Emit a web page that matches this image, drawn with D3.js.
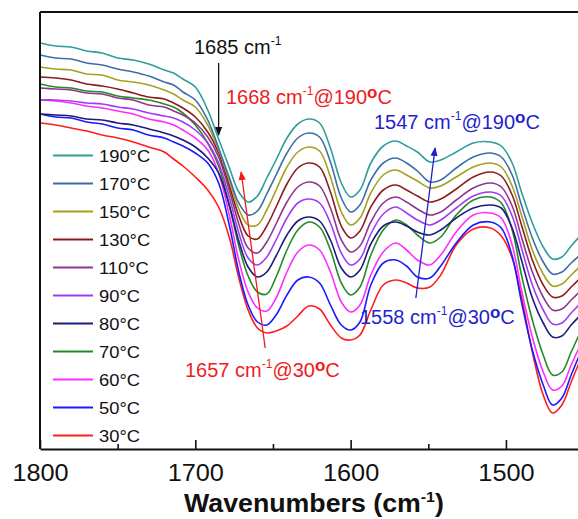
<!DOCTYPE html>
<html>
<head>
<meta charset="utf-8">
<script src="https://cdn.jsdelivr.net/npm/d3@7"></script>
<style>
  html, body { margin: 0; padding: 0; background: #fff; }
  svg { display: block; font-family: "Liberation Sans", Arial, Helvetica, sans-serif; }
</style>
</head>
<body>
<svg id="chart" width="578" height="519"></svg>
<script>
// FTIR spectra (amide I / amide II region) recorded at increasing temperature.
// Absorbance in milli-units (offset per spectrum as plotted).
const wavenumbers = [1800,1790,1780,1770,1760,1750,1740,1730,1720,1714,1708,1700,1692,1685,1678,1672,1666,1660,1654,1648,1641,1634,1627,1620,1613,1606,1600,1594,1587,1579,1571,1564,1557,1549,1542,1532,1521,1510,1503,1496,1490,1483,1476,1470,1464,1458,1450];

const temperatures = ["190°C","170°C","150°C","130°C","110°C","90°C","80°C","70°C","60°C","50°C","30°C"];

const abs190 = [417,414,413,409,407,402,400,396,390,387,381,373,350,321,292,268,258,264,282,300,322,336,341,337,312,277,263,270,297,314,319,314,308,298,300,308,317,318,314,297,268,237,213,201,203,214,228];
const abs170 = [405,402,401,397,395,391,388,384,378,375,368,360,340,312,282,257,245,249,266,285,307,322,327,323,298,262,248,255,280,297,302,297,289,278,280,292,303,307,303,285,255,222,198,186,188,197,208];
const abs150 = [393,391,390,386,385,380,378,375,370,366,360,353,335,310,279,251,235,235,250,270,293,308,313,309,283,248,235,242,267,285,290,285,279,272,274,283,293,297,293,274,245,210,186,174,176,185,197];
const abs130 = [383,382,380,376,374,371,367,363,361,357,352,343,328,307,274,244,224,221,234,253,276,292,297,293,268,234,222,229,253,270,275,270,264,258,261,271,283,288,284,265,235,200,175,163,164,173,185];
const abs110 = [372,371,370,367,366,362,360,355,353,349,345,337,323,303,269,236,212,207,218,236,258,273,278,274,252,220,208,214,238,257,263,258,251,245,248,260,272,277,273,254,223,188,163,150,151,160,172];
const abs90  = [360,360,359,357,356,353,351,347,344,342,338,330,317,297,262,227,202,195,203,220,242,257,261,257,237,207,195,201,226,246,253,247,240,235,240,252,264,268,264,244,212,175,150,136,137,147,160];
const abs80  = [346,345,344,341,340,337,335,331,327,324,320,313,302,287,254,219,193,183,188,204,225,239,243,239,220,192,183,190,216,234,238,234,228,225,230,242,252,255,252,232,200,162,137,123,124,135,148];
const abs70  = [376,373,372,369,368,364,362,360,356,353,347,335,317,294,254,214,184,168,166,183,210,230,238,233,210,177,165,173,205,230,240,235,225,217,223,245,260,263,257,230,185,140,105,85,88,108,135];
const abs60  = [360,359,357,354,352,349,346,341,338,335,330,322,310,287,244,200,168,152,149,162,188,208,215,210,188,158,148,155,185,208,217,210,200,195,205,228,245,247,242,215,170,123,88,70,74,95,122];
const abs50  = [346,343,342,338,336,332,330,325,322,318,314,307,297,277,234,188,155,138,135,145,165,180,183,177,155,135,130,138,175,197,200,194,183,182,194,217,235,238,232,204,158,110,75,55,62,85,115];
const abs30  = [337,335,332,329,325,322,318,313,308,301,294,283,270,253,222,182,150,132,127,129,134,144,154,151,135,122,120,125,150,175,180,177,172,173,185,215,231,232,224,202,163,108,65,47,55,78,108];

const majorTicks = [1800, 1700, 1600, 1500];
const minorTicks = [1750, 1650, 1550];

const seriesValues = [abs190, abs170, abs150, abs130, abs110, abs90, abs80, abs70, abs60, abs50, abs30];
const seriesColors = ["#2e9d9d","#3d6ea8","#a3a11f","#8c1c1c","#8e3590","#a03cf5","#1c1c7a","#258a25","#ff2cff","#1a1aff","#ff1e1e"];

const W = 578, H = 519;
const margin = { left: 40, top: 12, bottom: 449 };

const x = d3.scaleLinear().domain([1800, 1450]).range([40, 583.6]);
const y = d3.scaleLinear().domain([11, 448]).range([margin.bottom, margin.top]);

const svg = d3.select("#chart");

svg.append("defs").append("clipPath").attr("id", "plotclip")
  .append("rect").attr("x", margin.left).attr("y", margin.top)
  .attr("width", W - margin.left).attr("height", margin.bottom - margin.top);

// spectra
const line = d3.line()
  .x((d, i) => x(wavenumbers[i]))
  .y(d => y(d))
  .curve(d3.curveCatmullRom.alpha(0.5));

const plot = svg.append("g").attr("clip-path", "url(#plotclip)");
for (let s = seriesValues.length - 1; s >= 0; s--) {
  plot.append("path")
    .datum(seriesValues[s])
    .attr("d", line)
    .attr("fill", "none")
    .attr("stroke", seriesColors[s])
    .attr("stroke-width", 1.6)
    .attr("stroke-linejoin", "round");
}

// frame: left and top edges
svg.append("line").attr("x1", margin.left).attr("x2", margin.left)
  .attr("y1", margin.top).attr("y2", margin.bottom)
  .attr("stroke", "#111").attr("stroke-width", 2);
svg.append("line").attr("x1", margin.left).attr("x2", W + 10)
  .attr("y1", margin.top).attr("y2", margin.top)
  .attr("stroke", "#111").attr("stroke-width", 2);

// bottom axis with inward ticks
const xAxis = d3.axisBottom(x).tickValues(majorTicks).tickFormat(d3.format("d"))
  .tickSizeInner(-9).tickSizeOuter(0).tickPadding(16);
const gx = svg.append("g").attr("transform", `translate(0,${margin.bottom})`).call(xAxis);
gx.select(".domain").attr("stroke", "#111").attr("stroke-width", 2);
gx.selectAll(".tick line").attr("stroke", "#111").attr("stroke-width", 1.6);
gx.selectAll(".tick text")
  .attr("font-size", 23).attr("fill", "#111")
  .attr("font-family", "\"Liberation Sans\", Arial, sans-serif")
  .attr("transform", "scale(1.1,1)");

const minorAxis = d3.axisBottom(x).tickValues(minorTicks).tickFormat("")
  .tickSizeInner(-5).tickSizeOuter(0);
const gm = svg.append("g").attr("transform", `translate(0,${margin.bottom})`).call(minorAxis);
gm.select(".domain").remove();
gm.selectAll(".tick line").attr("stroke", "#111").attr("stroke-width", 1.6);

// axis title
const title = svg.append("text")
  .attr("transform", "translate(314,512) scale(1.07,1)")
  .attr("text-anchor", "middle")
  .attr("font-size", 25).attr("font-weight", "bold").attr("fill", "#111");
title.append("tspan").text("Wavenumbers (cm");
title.append("tspan").attr("font-size", 15).attr("dy", -10).text("-1");
title.append("tspan").attr("dy", 10).text(")");

// legend
const legend = svg.append("g");
temperatures.forEach((t, i) => {
  const base = 162 + i * 28;
  legend.append("line")
    .attr("x1", 53).attr("x2", 93)
    .attr("y1", base - 6.5).attr("y2", base - 6.5)
    .attr("stroke", seriesColors[i]).attr("stroke-width", 2);
  legend.append("text")
    .attr("transform", `translate(99,${base}) scale(1.08,1)`)
    .attr("font-size", 17).attr("fill", "#111")
    .text(t);
});

// annotations
const defs = svg.select("defs");
function marker(id, color) {
  defs.append("marker").attr("id", id)
    .attr("viewBox", "0 0 10 10").attr("refX", 9).attr("refY", 5)
    .attr("markerUnits", "userSpaceOnUse")
    .attr("markerWidth", 9).attr("markerHeight", 9)
    .attr("orient", "auto")
    .append("path").attr("d", "M0,1 L10,5 L0,9 Z").attr("fill", color);
}
marker("arrBlack", "#111");
marker("arrRed", "#ee1c1c");
marker("arrBlue", "#1f1fcc");

const arrows = [
  { from: [1685, 397], to: [1685, 325], color: "#111", m: "arrBlack" },
  { from: [1655, 112], to: [1670.5, 288], color: "#ee1c1c", m: "arrRed" },
  { from: [1558, 162], to: [1545.6, 312], color: "#1f1fcc", m: "arrBlue" }
];
arrows.forEach(a => {
  svg.append("line")
    .attr("x1", x(a.from[0])).attr("y1", y(a.from[1]))
    .attr("x2", x(a.to[0])).attr("y2", y(a.to[1]))
    .attr("stroke", a.color).attr("stroke-width", 1.3)
    .attr("marker-end", `url(#${a.m})`);
});

function peakLabel(px, py, color, wn, temp) {
  const t = svg.append("text").attr("x", px).attr("y", py)
    .attr("font-size", 20).attr("fill", color);
  t.append("tspan").text(wn + " cm");
  t.append("tspan").attr("font-size", 12).attr("dy", -9).text("-1");
  if (temp !== null) {
    t.append("tspan").attr("dy", 9).text("@" + temp);
    t.append("tspan").attr("font-size", 17).attr("font-weight", "bold").attr("dy", -6).text("o");
    t.append("tspan").attr("dy", 6).text("C");
  }
}
peakLabel(194, 54, "#111", "1685", null);
peakLabel(226, 104, "#ee1c1c", "1668", "190");
peakLabel(185, 377, "#ee1c1c", "1657", "30");
peakLabel(374, 129, "#1f1fcc", "1547", "190");
peakLabel(360, 324, "#1f1fcc", "1558", "30");
</script>
</body>
</html>
